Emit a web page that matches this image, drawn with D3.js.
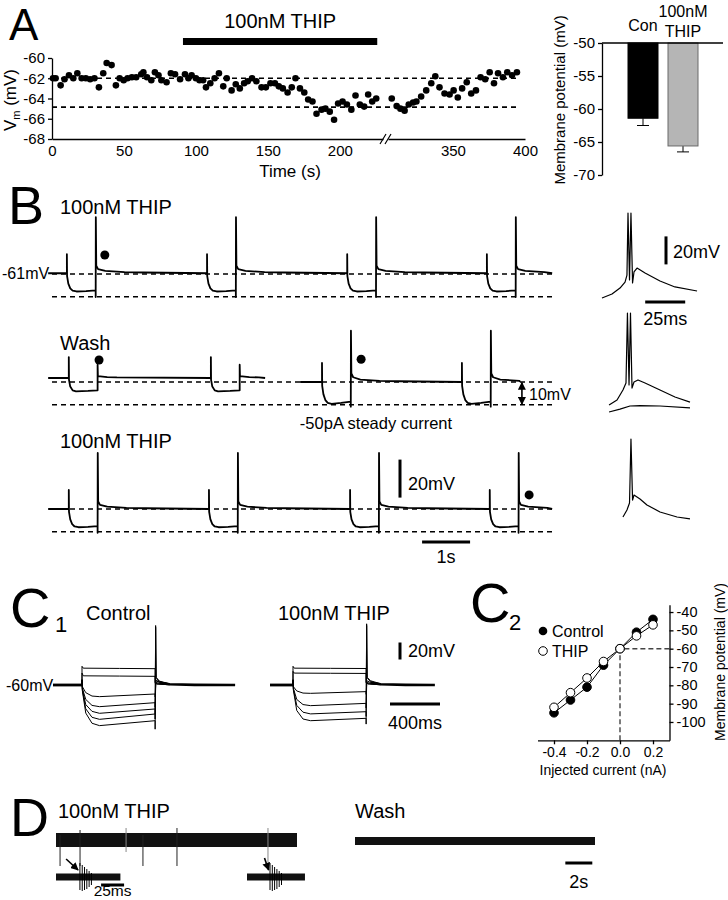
<!DOCTYPE html>
<html lang="en">
<head>
<meta charset="UTF-8">
<title>THIP membrane potential figure</title>
<script src="https://d3js.org/d3.v7.min.js"></script>
<style>
  body { margin: 0; background: #fff; }
  svg { display: block; font-family: "Liberation Sans", Arial, Helvetica, sans-serif; }
  svg text { fill: #000; }
  .axis text { font-family: "Liberation Sans", Arial, sans-serif; font-size: 15px; }
  .axis path, .axis line { stroke: #000; stroke-width: 1.3; }
  .trace { fill: none; stroke: #000; stroke-linejoin: round; }
  .dash { stroke: #000; stroke-width: 1.6; stroke-dasharray: 5,4; }
</style>
</head>
<body>
<svg id="fig" width="728" height="900"></svg>
<script>
// ---------- A: time course of Vm (s, mV), before and after the axis break
const aTime1 = [0.7, 2.5, 6, 8.7, 11.8, 14.8, 17.6, 20.6, 23.5, 26.5, 29.5, 32.6, 35.6, 38, 41.4, 44.4, 47, 49.8, 52.5, 55.5,
  58.5, 62, 63.5, 66, 69, 71.5, 74, 76, 79.6, 82.6, 85.5, 89, 92.4, 94.8, 97, 100, 102.5, 105, 107, 110,
  113, 116, 119, 121.4, 124.8, 127.7, 130.5, 133.5, 136, 139, 142, 145.6, 148.6, 151.8, 154.9, 157.6, 160.4, 163.7, 166.6, 169.2,
  172.3, 175.3, 178, 181, 183.8, 187.3, 190, 193, 196, 198.8, 201.9, 204.9, 208, 210.9, 213.9, 216.9, 219.7, 222.5, 225.3];
const aVm1 = [-62, -62, -62.7, -62.1, -61.7, -62, -61.5, -62, -62, -62.1, -62, -62.9, -61.5, -60.5, -60.7, -62.7, -62, -62.2, -62, -61.9,
  -61.9, -61.6, -61.4, -61.9, -62.2, -61.4, -61.7, -62.2, -62.4, -61.5, -61.6, -62.1, -61.6, -62, -61.7, -62, -62.2, -62.2, -62.9, -62.5,
  -62, -61.5, -62.8, -62, -63.2, -62.6, -63, -62.5, -62.3, -62, -62.3, -62.9, -62.9, -62.5, -62.5, -62.8, -63, -63.4, -62.9, -62,
  -63, -63.4, -64.1, -64.3, -65.5, -65.1, -65, -65.3, -66.1, -64.5, -64.3, -64.6, -65.1, -63.7, -64.6, -64.8, -63.6, -64.3, -64.0];
const aTime2 = [307.6, 311, 313.6, 316.5, 319.4, 322.4, 324.7, 328, 331.5, 335, 337.8, 340.7, 344.2, 347.7, 350.5,
  353.4, 356.4, 359.6, 362.7, 366, 369.2, 372.4, 375.5, 378.5, 381.3, 384.7, 387.7, 391, 394.4];
const aVm2 = [-64, -64.75, -65, -65.2, -64.6, -64.4, -64.3, -63.8, -63.2, -62.5, -61.8, -62.9, -63.5, -63.6, -63.2,
  -63.9, -63, -62.4, -63.5, -63.2, -61.9, -62.1, -61.4, -62.5, -61.5, -61.9, -61.4, -61.7, -61.4];
const aDashMV = [-62, -64.85];
const aDrugSpan = [91, 226];
const aYTicks = [-60, -62, -64, -66, -68];
const aXTicksLeft = [0, 50, 100, 150, 200];
const aXTicksRight = [350, 400];

// ---------- A right: mean membrane potential
const barCats = ["Con", "THIP"];
const barMean = [-61.4, -65.6];
const barSem = [1.1, 0.9];
const barTicks = [-50, -55, -60, -65, -70];

// ---------- B: current-clamp sweeps (s, mV)
const bDashMV = [-61, -73];
const bOnsetsThip1 = [0.31, 3.23, 6.15, 9.06];
const bOnsetsWash1 = [0.35, 3.31];
const bOnsetsWash2 = [5.625, 8.54];
const bOnsetsThip2 = [0.35, 3.27, 6.21, 9.12];
// one hyperpolarising pulse: [time after onset, mV from rest]
const bPulseSpike = [[0, 0], [0, 10], [0.004, -1.5], [0.03, -5.5], [0.07, -8], [0.12, -9.2], [0.2, -9.6], [0.4, -9.4], [0.6, -9],
  [0.6, -12.5], [0.603, 29.5], [0.612, 4], [0.65, 2.2], [0.8, 1.2], [1.2, 0.6], [1.6, 0.4]];
const bPulseNoSpike = [[0, 0], [0, 11], [0.004, -1], [0.03, -4.5], [0.08, -6.5], [0.15, -7], [0.4, -6.8], [0.6, -6.5],
  [0.6, 7], [0.606, 1], [0.8, 0.5], [1.0, 0.3]];
const bPulseSteady = [[0, 0], [0, 10], [0.004, -2], [0.03, -6.5], [0.07, -9.5], [0.12, -11], [0.2, -11.5], [0.4, -11], [0.6, -10.3],
  [0.6, -13], [0.603, 27], [0.612, 4.5], [0.65, 2.5], [0.8, 1.3], [1.2, 0.6], [1.6, 0.4]];
const bSegRow = [0, 1, 1, 2];
const bSegSpan = [[-0.08, 10.42], [-0.08, 4.44], [5.17, 9.75], [-0.08, 10.42]];
const bSegRest = [-60.6, -58.9, -61, -61];
const bSegOnsets = [bOnsetsThip1, bOnsetsWash1, bOnsetsWash2, bOnsetsThip2];
const bSegPulse = [bPulseSpike, bPulseNoSpike, bPulseSteady, bPulseSpike];
const bDots = [[0, 1.1, -51], [1, 0.98, -49.4], [1, 6.44, -49], [2, 9.94, -53.6]];
// expanded rebound spikes (ms, mV from start)
const bInsetThip = [[0, 0], [6.25, 2.9], [11.25, 7.1], [14.4, 11.4], [15.6, 16.4], [16.25, 60.7], [17.2, 12.9], [18.1, 60.7],
  [19.1, 10.7], [20, 18.6], [21.9, 21.4], [26.9, 17.9], [36.25, 12.1], [45.6, 7.9], [59.4, 5]];
const bInsetWash = [[4.4, 0], [9.4, 3.6], [13.1, 10.7], [15, 15.7], [15.9, 65.7], [16.9, 14.3], [17.8, 65.7], [18.75, 12.1],
  [20, 16.4], [22.5, 17.9], [26.9, 15.7], [36.25, 10.7], [45.6, 5.7], [55, 2.1]];
const bInsetWashSub = [[4.4, -5], [11.25, -2.9], [17.5, -0.7], [23.75, -0.4], [36.25, -0.7], [55, -2.1]];
const bInsetThip2 = [[13.1, 0], [15.6, 5], [17.2, 10], [18.1, 55.7], [19.1, 12.1], [20, 15.7], [23.75, 12.9], [28.1, 8.6],
  [36.25, 3.6], [46.9, 0], [55, -1.4]];

// ---------- C1: current steps (ms, mV from -60)
const c1Control = [
  [[0, 0], [0, 22], [10, 19.8], [300, 19.5], [585, 19.2], [585, 3], [600, 1.5], [700, 0.5]],
  [[0, 0], [0, 14], [10, 10.8], [300, 10.5], [585, 10.2], [585, 2], [600, 1], [700, 0.3]],
  [[0, 0], [0, 6], [3, -2], [30, -9], [80, -13], [140, -13.7], [585, -10.6], [585, -14], [590, 3], [620, 2], [700, 0.8]],
  [[0, 0], [0, 6], [3, -4], [30, -17], [80, -24], [140, -25.5], [585, -20.8], [585, -26], [590, 5], [620, 3], [700, 1]],
  [[0, 0], [0, 6], [3, -5], [30, -23], [80, -31], [140, -33.3], [585, -28.2], [585, -34], [590, 6], [620, 3.5], [700, 1]],
  [[0, 0], [0, 6], [3, -6], [30, -28], [80, -38], [140, -40.4], [585, -34.1], [585, -40], [589, 70], [593, 8], [620, 4], [700, 1.2]],
  [[0, 0], [0, 6], [3, -7], [30, -33], [80, -45], [140, -47.8], [585, -42], [585, -52], [589, 68], [594, 9], [620, 4.5], [700, 1.5]]
];
const c1Thip = [
  [[0, 0], [0, 22], [10, 19.8], [300, 19.6], [585, 19.4], [585, 3], [600, 1.5], [700, 0.5]],
  [[0, 0], [0, 16], [10, 14], [300, 13.8], [585, 13.6], [585, 2.5], [600, 1.2], [700, 0.4]],
  [[0, 0], [0, 6], [3, -2], [30, -7], [80, -9.5], [140, -9.8], [585, -7.8], [585, -11], [590, 3], [620, 2], [700, 0.8]],
  [[0, 0], [0, 6], [3, -4], [30, -17], [80, -23], [140, -24.3], [585, -21.6], [585, -27], [590, 5], [620, 3], [700, 1]],
  [[0, 0], [0, 6], [3, -5], [30, -24], [80, -32], [140, -34], [585, -31.4], [585, -37], [589, 72], [593, 8], [620, 4], [700, 1.2]],
  [[0, 0], [0, 6], [3, -6], [30, -30], [80, -40], [140, -42], [585, -39.2], [585, -46], [589, 70], [594, 9], [620, 5], [700, 1.5]]
];
const c1Tail = [[620, 2.5], [700, 0.8], [900, 0.2]];
const c1SpanControl = [-232, 1225];
const c1SpanThip = [-184, 1135];

// ---------- C2: I-V relation
const c2Current = [-0.4, -0.3, -0.2, -0.1, 0, 0.1, 0.2];
const c2Control = [-95, -88, -81, -69, -60, -51, -44];
const c2Thip = [-92, -84, -76, -67, -60, -53, -47];
const c2YTicks = [-40, -50, -60, -70, -80, -90, -100];
const c2XTicks = [-0.4, -0.2, 0, 0.2];

// ---------- D: extracellular recording (s; inset ms; mV)
const dSpan = [17.85, 17.8];
const dNoise = [0.07, 0.04];
const dSpikeT = [0.3, 1.78, 5.19, 6.44, 8.96, 15.7];
const dSpikeUp = [0.05, 0.1, 0.12, 0.05, 0.12, 0.12];
const dSpikeDown = [-0.26, -0.26, -0.12, -0.26, -0.26, -0.26];
const dInsetSpan = [70, 63];
const dBurst1T = [26, 28.5, 31, 33.5, 36, 38.5];
const dBurst2T = [25, 27.5, 30, 32.5, 35, 37.5];
const dBurstUp = [0.14, 0.12, 0.1, 0.08, 0.06, 0.04];
const dBurstDown = [-0.13, -0.14, -0.13, -0.12, -0.1, -0.08];

// ======================================================================
const svg = d3.select("#fig");
svg.append("rect").attr("width", 728).attr("height", 900).attr("fill", "#fff");

const defs = svg.append("defs");
defs.append("marker").attr("id", "head").attr("viewBox", "0 0 10 10")
  .attr("refX", 9).attr("refY", 5).attr("markerWidth", 5).attr("markerHeight", 5)
  .attr("orient", "auto-start-reverse")
  .append("path").attr("d", "M0,0L10,5L0,10z").attr("fill", "#000");

function text(x, y, s, size, anchor) {
  return svg.append("text").attr("x", x).attr("y", y)
    .attr("font-size", size).attr("text-anchor", anchor || "start").text(s);
}
function rotText(x, y, s, size) {
  return svg.append("text").attr("transform", `translate(${x},${y}) rotate(-90)`)
    .attr("font-size", size).attr("text-anchor", "middle").text(s);
}
function hLine(x1, x2, y, w) {
  return svg.append("line").attr("x1", x1).attr("x2", x2).attr("y1", y).attr("y2", y)
    .attr("stroke", "#000").attr("stroke-width", w);
}
function vLine(x, y1, y2, w) {
  return svg.append("line").attr("x1", x).attr("x2", x).attr("y1", y1).attr("y2", y2)
    .attr("stroke", "#000").attr("stroke-width", w);
}
const lineXY = (xs, ys) => d3.line().x(d => xs(d[0])).y(d => ys(d[1]));

// ----------------------------- A -------------------------------------
text(9, 40, "A", 44);
const xA1 = d3.scaleLinear().domain([0, 230]).range([52, 383]);
const xA2 = d3.scaleLinear().domain([305, 400]).range([388, 525]);
const yA = d3.scaleLinear().domain([-68, -60]).range([139, 58]);

svg.append("rect").attr("x", xA1(aDrugSpan[0])).attr("y", 38)
  .attr("width", xA1(aDrugSpan[1]) - xA1(aDrugSpan[0])).attr("height", 7);
text((xA1(aDrugSpan[0]) + xA1(aDrugSpan[1])) / 2, 28, "100nM THIP", 20, "middle");

svg.append("g").attr("class", "axis").attr("transform", "translate(52,0)")
  .call(d3.axisLeft(yA).tickValues(aYTicks).tickFormat(String).tickSize(4).tickSizeOuter(0).tickPadding(3));
svg.append("g").attr("class", "axis").attr("transform", `translate(0,${yA(-68)})`)
  .call(d3.axisBottom(xA1).tickValues(aXTicksLeft).tickFormat(String).tickSize(0).tickSizeOuter(0).tickPadding(6));
svg.append("g").attr("class", "axis").attr("transform", `translate(0,${yA(-68)})`)
  .call(d3.axisBottom(xA2).tickValues(aXTicksRight).tickFormat(String).tickSize(0).tickSizeOuter(0).tickPadding(6));
svg.append("path").attr("d", `M${xA1(230) - 3},${yA(-68) + 5}l6,-10M${xA1(230) + 2},${yA(-68) + 5}l6,-10`)
  .attr("stroke", "#000").attr("stroke-width", 1.2);

aDashMV.forEach(mv => svg.append("line").attr("class", "dash").attr("stroke-width", 1.4)
  .attr("x1", xA1(0)).attr("x2", xA2(396)).attr("y1", yA(mv)).attr("y2", yA(mv)));

svg.append("g").selectAll("circle").data(aTime1.map((t, i) => [t, aVm1[i]])).join("circle")
  .attr("cx", d => xA1(d[0])).attr("cy", d => yA(d[1])).attr("r", 3.3);
svg.append("g").selectAll("circle").data(aTime2.map((t, i) => [t, aVm2[i]])).join("circle")
  .attr("cx", d => xA2(d[0])).attr("cy", d => yA(d[1])).attr("r", 3.3);

text(290, 177, "Time (s)", 17, "middle");
const vmLab = svg.append("text").attr("transform", "translate(16,100) rotate(-90)")
  .attr("text-anchor", "middle").attr("font-size", 17);
vmLab.append("tspan").text("V");
vmLab.append("tspan").attr("font-size", 11).attr("dy", 4).text("m");
vmLab.append("tspan").attr("dy", -4).text(" (mV)");

// bar chart
const yBar = d3.scaleLinear().domain([-70, -50]).range([175, 43]);
const xBar = d3.scaleBand().domain(barCats).range([620, 706]).paddingInner(0.25).paddingOuter(0.2);
svg.append("g").attr("class", "axis").attr("transform", "translate(602,0)")
  .call(d3.axisLeft(yBar).tickValues(barTicks).tickFormat(String).tickSize(4).tickSizeOuter(0).tickPadding(3));
barCats.forEach((c, i) => {
  const x = xBar(c), w = xBar.bandwidth(), cx = x + w / 2;
  vLine(cx, yBar(barMean[i]), yBar(barMean[i] - barSem[i]), 1);
  hLine(cx - 6, cx + 6, yBar(barMean[i] - barSem[i]), 1);
  svg.append("rect").attr("x", x).attr("y", yBar(-50)).attr("width", w)
    .attr("height", yBar(barMean[i]) - yBar(-50))
    .attr("fill", i === 0 ? "#000" : "#b5b5b5").attr("stroke", i === 0 ? "#000" : "#6a6a6a").attr("stroke-width", 1);
});
hLine(602, 723, yBar(-50), 1.5);
text(xBar("Con") + xBar.bandwidth() / 2, 31, "Con", 16, "middle");
text(xBar("THIP") + xBar.bandwidth() / 2, 17, "100nM", 16, "middle");
text(xBar("THIP") + xBar.bandwidth() / 2, 37, "THIP", 16, "middle");
rotText(565, 100, "Membrane potential (mV)", 15);

// ----------------------------- B -------------------------------------
text(8, 224, "B", 54);
const xB = d3.scaleLinear().domain([0, 10.5]).range([52, 556]);
const bRowY = [274, 382, 509];
const yB = bRowY.map(y0 => d3.scaleLinear().domain([-61, -41]).range([y0, y0 - 38]));

bRowY.forEach((y0, i) => bDashMV.forEach(mv => svg.append("line").attr("class", "dash")
  .attr("x1", xB(0)).attr("x2", xB(10.5)).attr("y1", yB[i](mv)).attr("y2", yB[i](mv))));

bSegRow.forEach((row, i) => {
  const [t0, t1] = bSegSpan[i], rest = bSegRest[i];
  let pts = [[t0, rest]];
  bSegOnsets[i].forEach(on => bSegPulse[i].forEach(([dt, dv]) => pts.push([on + dt, rest + dv])));
  pts = pts.filter(p => p[0] <= t1);
  pts.push([t1, rest]);
  svg.append("path").attr("class", "trace").attr("stroke-width", 1.8)
    .attr("d", lineXY(xB, yB[row])(pts));
});
bDots.forEach(([row, t, mv]) => svg.append("circle").attr("cx", xB(t)).attr("cy", yB[row](mv)).attr("r", 4.5));

text(60, 214, "100nM THIP", 20);
text(2, 279, "-61mV", 16);
text(60, 350, "Wash", 20);
text(376, 429, "-50pA steady current", 16.5, "middle");
text(60, 448, "100nM THIP", 20);

// 10 mV double arrow
svg.append("line").attr("x1", xB(9.79)).attr("x2", xB(9.79))
  .attr("y1", yB[1](-61.3)).attr("y2", yB[1](-72.7))
  .attr("stroke", "#000").attr("stroke-width", 1.6)
  .attr("marker-start", "url(#head)").attr("marker-end", "url(#head)");
text(529, 400, "10mV", 16);

// scale bars
vLine(xB(7.25), yB[2](-55), yB[2](-35), 3);
text(xB(7.25) + 8, 490, "20mV", 18);
hLine(xB(7.71), xB(8.71), 542, 3);
text(xB(8.21), 563, "1s", 18, "middle");

// expanded spikes
const xIn = d3.scaleLinear().domain([0, 60]).range([602, 698]);
const inBase = [298, 405, 517];
const yIn = inBase.map(b => d3.scaleLinear().domain([0, 20]).range([b, b - 28]));
[[bInsetThip, 0], [bInsetWash, 1], [bInsetWashSub, 1], [bInsetThip2, 2]].forEach(([d, k]) =>
  svg.append("path").attr("class", "trace").attr("stroke-width", 1.2).attr("d", lineXY(xIn, yIn[k])(d)));
vLine(666, yIn[0](24), yIn[0](44), 3);
text(673, 258, "20mV", 18);
hLine(xIn(27), xIn(52), 302, 3);
text(xIn(39.5), 325, "25ms", 18, "middle");

// ----------------------------- C1 ------------------------------------
text(10, 627, "C", 56);
text(55, 632, "1", 22);
const yC1 = d3.scaleLinear().domain([-60, -40]).range([685, 668]);
const xC1a = d3.scaleLinear().domain(c1SpanControl).range([53, 53 + (c1SpanControl[1] - c1SpanControl[0]) * 0.125]);
const xC1b = d3.scaleLinear().domain(c1SpanThip).range([270, 270 + (c1SpanThip[1] - c1SpanThip[0]) * 0.125]);

function drawSweeps(sweeps, xs, span) {
  const ln = lineXY(xs, yC1);
  svg.append("path").attr("class", "trace").attr("stroke-width", 2.8)
    .attr("d", ln([[span[0], -60], [0, -60]]));
  svg.append("path").attr("class", "trace").attr("stroke-width", 2.6)
    .attr("d", ln(c1Tail.map(([t, dv]) => [t, -60 + dv]).concat([[span[1], -60]])));
  sweeps.forEach(sw => svg.append("path").attr("class", "trace").attr("stroke-width", 1)
    .attr("d", ln(sw.map(([t, dv]) => [t, -60 + dv]))));
}
drawSweeps(c1Control, xC1a, c1SpanControl);
drawSweeps(c1Thip, xC1b, c1SpanThip);

text(6, 691, "-60mV", 16);
text(86, 620, "Control", 20);
text(278, 620, "100nM THIP", 20);
vLine(400, yC1(-30), yC1(-10), 3);
text(408, 657, "20mV", 18);
hLine(xC1b(776), xC1b(1176), 704, 3);
text(xC1b(976), 729, "400ms", 18, "middle");

// ----------------------------- C2 ------------------------------------
text(470, 622, "C", 56);
text(509, 630, "2", 22);
const xC2 = d3.scaleLinear().domain([-0.5, 0.3]).range([537.5, 669.5]);
const yC2 = d3.scaleLinear().domain([-110, -36]).range([740.3, 604.7]);

const gx = svg.append("g").attr("class", "axis").attr("transform", `translate(0,${yC2(-110)})`)
  .call(d3.axisBottom(xC2).tickValues(c2XTicks).tickFormat(d => d.toFixed(1)).tickSize(4).tickSizeOuter(0).tickPadding(3));
gx.selectAll("text").style("font-size", "14px");
const gy = svg.append("g").attr("class", "axis").attr("transform", `translate(${xC2(0.3)},0)`)
  .call(d3.axisRight(yC2).tickValues(c2YTicks).tickFormat(String).tickSize(4).tickSizeOuter(0).tickPadding(3));
gy.selectAll("text").style("font-size", "14.5px");

svg.append("path").attr("d", `M${xC2(0)},${yC2(-110)}V${yC2(-60)}H${xC2(0.3)}`)
  .attr("fill", "none").attr("stroke", "#444").attr("stroke-width", 1.4).attr("stroke-dasharray", "5,3");

[[c2Control, "#000"], [c2Thip, "#fff"]].forEach(([vals, fill]) => {
  const pts = c2Current.map((c, i) => [c, vals[i]]);
  svg.append("path").attr("class", "trace").attr("stroke-width", 1).attr("d", lineXY(xC2, yC2)(pts));
  svg.append("g").selectAll("circle").data(pts).join("circle")
    .attr("cx", d => xC2(d[0])).attr("cy", d => yC2(d[1])).attr("r", 4.3)
    .attr("fill", fill).attr("stroke", "#000").attr("stroke-width", 1);
});
svg.append("circle").attr("cx", 543).attr("cy", 631).attr("r", 4.3).attr("fill", "#000");
text(552, 637, "Control", 16);
svg.append("circle").attr("cx", 543).attr("cy", 651).attr("r", 4.3).attr("fill", "#fff").attr("stroke", "#000");
text(552, 657, "THIP", 16);
text(603, 775, "Injected current (nA)", 14, "middle");
rotText(725, 662, "Membrane potential (mV)", 14);

// ----------------------------- D -------------------------------------
text(10, 836, "D", 54);
text(58, 818, "100nM THIP", 20);
text(355, 818, "Wash", 20);
const yD = d3.scaleLinear().domain([-1, 1]).range([100, -100]);
const xD1 = d3.scaleLinear().domain([0, dSpan[0]]).range([56, 297]);
const xD2 = d3.scaleLinear().domain([0, dSpan[1]]).range([355, 595]);
const dMid = [840, 841];

svg.append("rect").attr("x", xD1(0)).attr("width", xD1(dSpan[0]) - xD1(0))
  .attr("y", dMid[0] + yD(dNoise[0])).attr("height", yD(-dNoise[0]) - yD(dNoise[0])).attr("fill", "#111");
dSpikeT.forEach((t, i) => vLine(xD1(t), dMid[0] + yD(dSpikeUp[i]), dMid[0] + yD(dSpikeDown[i]), 1)
  .attr("stroke", i === 2 || i === 5 ? "#888" : "#222"));
svg.append("rect").attr("x", xD2(0)).attr("width", xD2(dSpan[1]) - xD2(0))
  .attr("y", dMid[1] + yD(dNoise[1])).attr("height", yD(-dNoise[1]) - yD(dNoise[1])).attr("fill", "#111");
hLine(xD2(15.6), xD2(17.6), 863, 3);
text(xD2(16.6), 888, "2s", 18, "middle");

// expanded bursts
const xI = [d3.scaleLinear().domain([0, dInsetSpan[0]]).range([56, 56 + dInsetSpan[0] * 0.92]),
            d3.scaleLinear().domain([0, dInsetSpan[1]]).range([247, 247 + dInsetSpan[1] * 0.92])];
const inMid = 877;
[dBurst1T, dBurst2T].forEach((bt, k) => {
  svg.append("rect").attr("x", xI[k](0)).attr("width", xI[k](dInsetSpan[k]) - xI[k](0))
    .attr("y", inMid + yD(0.035)).attr("height", yD(-0.035) - yD(0.035)).attr("fill", "#111");
  bt.forEach((t, i) => vLine(xI[k](t), inMid + yD(dBurstUp[i]), inMid + yD(dBurstDown[i]), 1));
});
svg.append("line").attr("x1", xI[0](11)).attr("y1", 859).attr("x2", xI[0](24)).attr("y2", 870)
  .attr("stroke", "#000").attr("stroke-width", 1.6).attr("marker-end", "url(#head)");
svg.append("line").attr("x1", xI[1](19)).attr("y1", 858).attr("x2", xI[1](23.5)).attr("y2", 870)
  .attr("stroke", "#000").attr("stroke-width", 1.6).attr("marker-end", "url(#head)");
hLine(xI[0](49), xI[0](74), 885, 3);
text(xI[0](61.5), 896, "25ms", 15.5, "middle");
</script>
</body>
</html>
